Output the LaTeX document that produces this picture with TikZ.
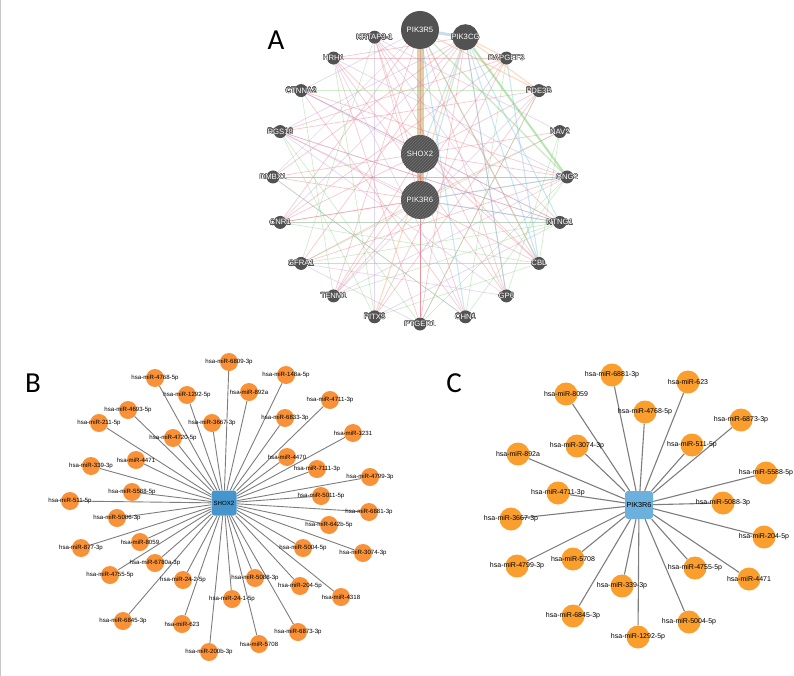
\documentclass[tikz,border=0pt]{standalone}
\usepackage{fontspec}
\setmainfont{Liberation Sans}
\newfontfamily\panelfont{Carlito}
\usepackage[copies]{contour}
\usetikzlibrary{patterns,backgrounds}
\contourlength{0.4pt}
\contournumber{16}

\definecolor{genegray}{RGB}{82,82,82}
\definecolor{coexp}{RGB}{232,110,125}
\definecolor{pathw}{RGB}{185,150,210}
\definecolor{coloc}{RGB}{130,205,120}
\definecolor{gint}{RGB}{110,195,225}
\definecolor{pred}{RGB}{245,165,105}
\definecolor{shdom}{RGB}{214,202,150}
\definecolor{mirB}{RGB}{248,145,55}
\definecolor{mirC}{RGB}{250,158,45}
\definecolor{hubB}{RGB}{70,150,205}
\definecolor{hubC}{RGB}{108,176,222}
\definecolor{spokegray}{RGB}{125,125,125}

\tikzset{
  gene/.style={circle, fill=genegray, inner sep=0pt, minimum size=#1},
  gene/.default=13pt,
  hatched/.style={postaction={pattern=north east lines, pattern color=black!55}},
  glabel/.style={text=white, font=\fontsize{7.7}{8}\selectfont, inner sep=0pt},
  edgeA/.style={draw=#1, line width=0.7pt, draw opacity=0.38},
  mirb/.style={circle, fill=mirB, minimum size=18pt, inner sep=0pt},
  mirc/.style={circle, fill=mirC, minimum size=23pt, inner sep=0pt},
  blab/.style={font=\fontsize{6.1}{7}\selectfont, inner sep=0pt},
  clab/.style={font=\fontsize{7}{8}\selectfont, inner sep=0pt},
  hubbox/.style={rectangle, rounded corners=3pt, fill=#1, inner sep=0pt},
  spoke/.style={draw=spokegray, line width=0.9pt},
  panel/.style={font=\panelfont\fontsize{29}{30}\selectfont, inner sep=0pt}
}

\begin{document}
\begin{tikzpicture}[x=1pt,y=-1pt]
  \useasboundingbox (0,0) rectangle (794,676);
  \draw[gray!45, line width=1.2pt] (0.6,0) -- (0.6,676);

  \node[panel] (pa) at (276,40) {A};
  \node[panel] (pb) at (33,383) {B};
  \node[panel] (pc) at (454,383) {C};

  \begin{scope}[shift={(420,177)}]
    \foreach \g/\s [count=\i from 0] in {PIK3R5/38pt,PIK3CG/26pt,RAPGEF3/13pt,PDE3B/13pt,NAV2/13pt,GNG2/13pt,NTNG1/13pt,CBL/13pt,GP6/13pt,CHN1/13pt,PTGER1/13pt,PITX3/13pt,TENM1/13pt,GFRA1/13pt,CNR1/13pt,DMBX1/13pt,RGS18/13pt,CTNNA2/13pt,HRH1/13pt,KRTAP3-1/13pt}
      \node[gene=\s, label={[glabel]center:\contour{genegray}{\g}}] (g\i) at (-90+18*\i:147) {};
  \end{scope}
  \node[gene=38pt, hatched, label={[glabel]center:\contour{genegray}{SHOX2}}] (gs) at (420,154) {};
  \node[gene=38pt, hatched, label={[glabel]center:\contour{genegray}{PIK3R6}}] (gr) at (420,200) {};

  \begin{pgfonlayer}{background}
    \draw[shdom, line width=7pt, opacity=0.85] (g0) -- (gr);
    \draw[gint!60!pathw, line width=3pt, opacity=0.45] (g0) -- (g1);
    \foreach \a/\b in {0/10,0/14,0/12,0/8,1/10,1/15,1/13,1/18,1/8,2/14,2/12,3/16,3/11,4/15,5/15,5/17,5/14,6/16,6/19,8/18,9/17,10/r,10/s,10/3,10/18,11/2,12/s,13/5,14/r,14/s,15/r,16/7,17/6,18/7,r/4,r/13,s/3,s/5,19/9,19/8,7/13,2/16,18/2,19/r,12/r,r/6,s/7}
      \draw[edgeA=coexp] (g\a) -- (g\b);
    \foreach \a/\b in {0/15,0/17,1/16,1/14,3/12,5/18,6/14,6/17,7/19,9/18,9/15,11/6,12/5,13/8,16/6,19/11,r/16,s/17,8/16,10/13,4/19,15/5}
      \draw[edgeA=pathw] (g\a) -- (g\b);
    \foreach \a/\b in {17/3,4/7,5/9,6/13,7/14,8/4,10/5,11/7,12/6,13/19,15/9,17/12,14/6,2/9,16/11,3/10,18/11,13/4,16/10}
      \draw[edgeA=coloc] (g\a) -- (g\b);
    \draw[coloc, line width=2pt, opacity=0.55] (g1) -- (g5);
    \draw[coloc, line width=1.2pt, opacity=0.45] (g0) -- (g5);
    \foreach \a/\b in {1/r,1/7,1/8,1/6,0/7,r/5,s/1,0/9,7/2,r/6}
      \draw[edgeA=gint, line width=1.1pt] (g\a) -- (g\b);
    \foreach \a/\b in {1/3,0/3,1/2,11/1,7/0}
      \draw[edgeA=pred, line width=1.2pt] (g\a) -- (g\b);
  \end{pgfonlayer}

  \node[hubbox=hubB, minimum size=25pt, font=\fontsize{6.1}{7}\selectfont] (shox) at (224,503) {SHOX2};
  \foreach \m/\x/\y [count=\i] in {4768-5p/155/378,1292-5p/187/395,4693-5p/128/410,211-5p/99/423,4720-5p/173/438,4471/136/460,339-3p/91/466,5588-5p/132/492,511-5p/70/501,6809-3p/229/362,148a-5p/286/375,892a/249/392,4711-3p/330/400,6833-3p/285/418,3667-3p/212/423,1231/353/433,4470/287/457,7111-3p/317/469,4799-3p/370/477,5011-5p/321/496,6881-3p/369/512,642b-5p/329/525,5004-5p/303/548,3074-3p/363/553,5088-3p/255/578,204-5p/300/586,4318/341/597,24-2-5p/183/580,24-1-5p/232/599,623/182/624,6873-3p/298/632,5708/259/644,200b-3p/209/652,5006-3p/117/518,877-3p/81/548,8059/140/542,6780a-3p/155/563,4755-5p/110/575,6845-3p/123/621}{
    \node[mirb, label={[blab]center:hsa-miR-\m}] (b\i) at (\x,\y) {};
    \begin{pgfonlayer}{background}
      \draw[spoke] (shox) -- (b\i);
    \end{pgfonlayer}
  }

  \node[hubbox=hubC, minimum size=28pt, font=\fontsize{7.25}{8}\selectfont] (pik) at (639,505) {PIK3R6};
  \foreach \m/\x/\y [count=\i] in {8059/566/394,3074-3p/577/446,892a/518/454,4711-3p/558/493,3667-3p/511/519,4799-3p/517/566,5708/573/559,6845-3p/573/616,6881-3p/612/375,623/688/382,4768-5p/645/412,6873-3p/741/420,511-5p/692/445,5588-5p/766/473,5088-3p/723/503,204-5p/764/537,4755-5p/695/568,4471/749/579,339-3p/622/586,5004-5p/689/622,1292-5p/638/637}{
    \node[mirc, label={[clab]center:hsa-miR-\m}] (c\i) at (\x,\y) {};
    \begin{pgfonlayer}{background}
      \draw[spoke, line width=1.1pt] (pik) -- (c\i);
    \end{pgfonlayer}
  }
\end{tikzpicture}
\end{document}
